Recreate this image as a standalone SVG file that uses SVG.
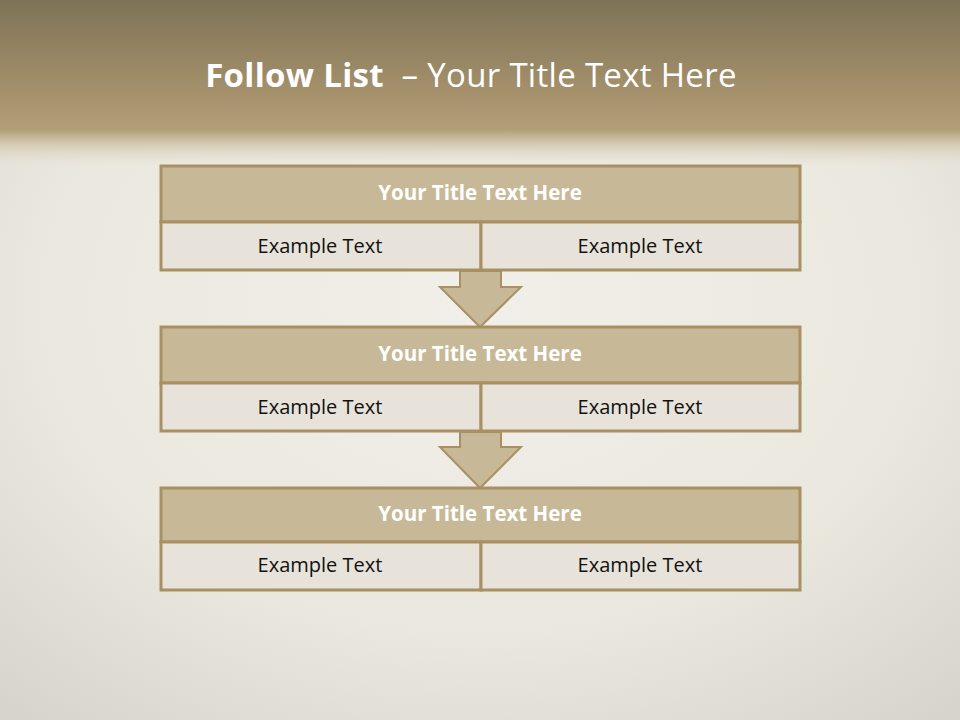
<svg xmlns="http://www.w3.org/2000/svg" width="960" height="720" viewBox="0 0 960 720">
<defs>
<linearGradient id="hdr" x1="0" y1="0" x2="0" y2="1">
<stop offset="0" stop-color="#7e7357"/>
<stop offset="0.55" stop-color="#a5916c"/>
<stop offset="0.76" stop-color="#b19e77"/>
<stop offset="0.84" stop-color="#d2c7ae"/>
<stop offset="1" stop-color="#ebe7de" stop-opacity="0"/>
</linearGradient>
<radialGradient id="bg" cx="0.5" cy="0.42" r="0.75">
<stop offset="0" stop-color="#f1efe9"/>
<stop offset="0.6" stop-color="#ebe8df"/>
<stop offset="1" stop-color="#d7d4cc"/>
</radialGradient>
<style>
.hd{fill:#c7b997;stroke:#a89063;stroke-width:3}
.cl{fill:#e8e3da;stroke:#a89063;stroke-width:3}
.ar{fill:#c7b997;stroke:#a89063;stroke-width:2}
.ht{font-family:"Open Sans","Liberation Sans",sans-serif;font-weight:bold;font-size:20.5px;fill:#ffffff;text-anchor:middle}
.ct{font-family:"Open Sans","Liberation Sans",sans-serif;font-size:20px;fill:#111111;text-anchor:middle}
</style>
</defs>
<rect width="960" height="720" fill="url(#bg)"/>
<rect width="960" height="170" fill="url(#hdr)"/>
<text x="471" y="87" font-family="Open Sans, Liberation Sans, sans-serif" font-size="33" fill="#ffffff" text-anchor="middle" xml:space="preserve" letter-spacing="0.3"><tspan font-weight="bold">Follow List</tspan>  – Your Title Text Here</text>
<g id="connectors">
<polygon class="ar" points="460,271 501,271 501,287 521,287 480,327 440,287 460,287"/>
<polygon class="ar" points="460,432 501,432 501,447 521,447 480,488 440,447 460,447"/>
</g>
<g id="node1">
<rect class="hd" x="161" y="166" width="639" height="56"/>
<rect class="cl" x="161" y="222" width="320" height="48"/>
<rect class="cl" x="481" y="222" width="319" height="48"/>
<text class="ht" x="480" y="200">Your Title Text Here</text>
<text class="ct" x="320" y="253">Example Text</text>
<text class="ct" x="640" y="253">Example Text</text>
</g>
<g id="node2">
<rect class="hd" x="161" y="327" width="639" height="56"/>
<rect class="cl" x="161" y="383" width="320" height="48"/>
<rect class="cl" x="481" y="383" width="319" height="48"/>
<text class="ht" x="480" y="361">Your Title Text Here</text>
<text class="ct" x="320" y="414">Example Text</text>
<text class="ct" x="640" y="414">Example Text</text>
</g>
<g id="node3">
<rect class="hd" x="161" y="488" width="639" height="54"/>
<rect class="cl" x="161" y="542" width="320" height="48"/>
<rect class="cl" x="481" y="542" width="319" height="48"/>
<text class="ht" x="480" y="521">Your Title Text Here</text>
<text class="ct" x="320" y="572">Example Text</text>
<text class="ct" x="640" y="572">Example Text</text>
</g>
</svg>
